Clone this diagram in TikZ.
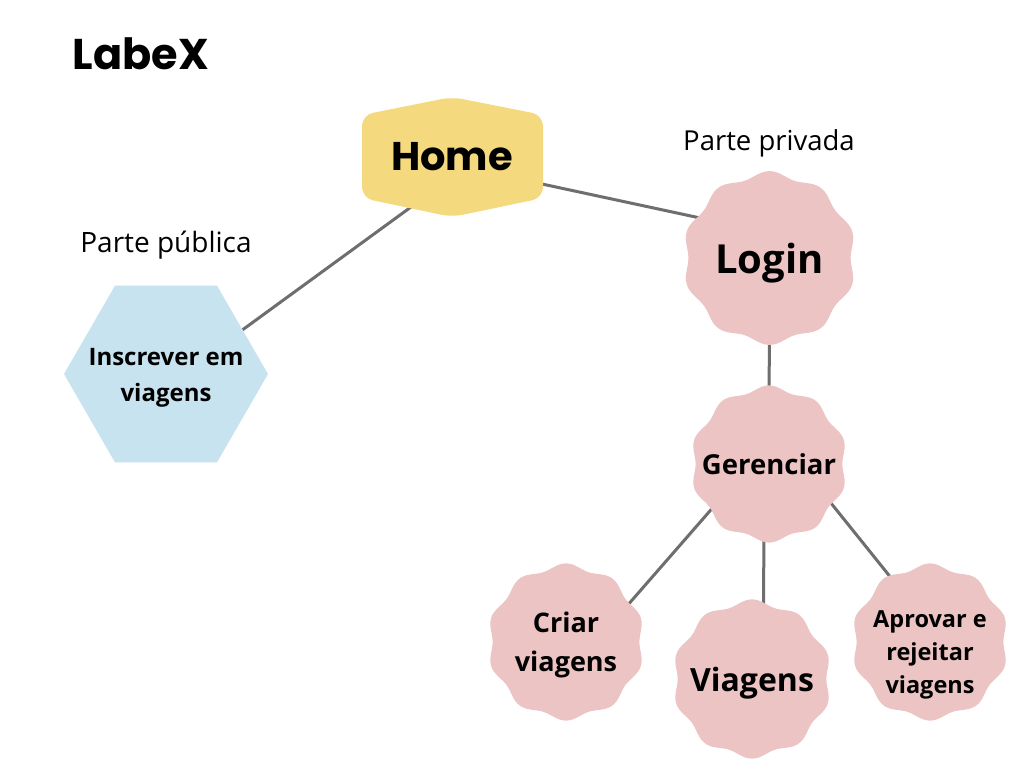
\documentclass[tikz,border=0pt]{standalone}
\usepackage{fontspec}
\setmainfont{Open Sans}
\newfontfamily\popfont{Poppins}
\usetikzlibrary{shapes.geometric,calc}
\pgfdeclarelayer{paper}
\pgfdeclarelayer{lines}
\pgfdeclarelayer{shapes}
\pgfsetlayers{paper,lines,shapes,main}
\definecolor{pinkc}{HTML}{ECC4C4}
\definecolor{yellowc}{HTML}{F5D97E}
\definecolor{bluec}{HTML}{C7E3EF}
\definecolor{linec}{HTML}{6E6E6E}
\newcommand\wavyfill[2]{%
  \fill[pinkc, shift={(#1)}] plot[smooth cycle, samples=72, domain=0:355] (\x:{#2*(1-0.035*cos(10*\x))});}
\tikzset{
  wavy/.style={circle, inner sep=0pt, minimum size=1.9*#1},
  lab/.style={inner sep=0pt, align=center},
  conn/.style={draw=linec, line width=3pt},
  plain/.style={inner sep=0pt, font=\fontsize{28}{32}\selectfont}
}
\begin{document}
\begin{tikzpicture}[x=1pt,y=-1pt]
\useasboundingbox (0,0) rectangle (1024,768);
\begin{pgfonlayer}{paper}
\fill[white] (0,0) rectangle (1024,768);
\end{pgfonlayer}
% title
\node[inner sep=0pt, font=\popfont\bfseries\fontsize{43}{50}\selectfont] (title) at (141,54) {LabeX};
% Home
\fill[yellowc, rounded corners=11pt] (362,115) -- (452,97) -- (543,115) -- (543,198) -- (452,217) -- (362,198) -- cycle;
\node[inner sep=0pt, font=\popfont\bfseries\fontsize{40}{46}\selectfont] (home) at (452,157) {Home};
% labels
\node[plain] (pub) at (166,245) {Parte pública};
\node[plain, font=\fontsize{27.5}{32}\selectfont] (priv) at (769,143) {Parte privada};
% blue hexagon
\node[regular polygon, regular polygon sides=6, minimum size=204, inner sep=0pt, fill=bluec,
  label={[lab, yshift=-4pt, font=\bfseries\fontsize{24}{36}\selectfont]center:{Inscrever em\\viagens}}] (blue) at (166,374) {};
% pink shapes
\node[wavy=84, label={[lab, yshift=-5pt, font=\bfseries\fontsize{40}{46}\selectfont]center:Login}] (login) at (769.5,258) {};
\node[wavy=76, label={[lab, font=\bfseries\fontsize{27.5}{34}\selectfont]center:Gerenciar}] (ger) at (769,464) {};
\node[wavy=76, label={[lab, yshift=-3pt, font=\bfseries\fontsize{27}{39}\selectfont]center:{Criar\\viagens}}] (cri) at (566,642) {};
\node[wavy=77, label={[lab, yshift=-4pt, font=\bfseries\fontsize{32}{36}\selectfont]center:Viagens}] (via) at (752,679) {};
\node[wavy=76, label={[lab, yshift=-13pt, font=\bfseries\fontsize{23.5}{33}\selectfont]center:{Aprovar e\\rejeitar\\viagens}}] (apr) at (930,642) {};
\begin{pgfonlayer}{shapes}
\wavyfill{login.center}{84}
\wavyfill{ger.center}{76}
\wavyfill{cri.center}{76}
\wavyfill{via.center}{77}
\wavyfill{apr.center}{76}
\end{pgfonlayer}
% connectors
\begin{pgfonlayer}{lines}
\draw[conn] ($(home.center)+(-30,42)$) -- (blue.30);
\draw[conn] ($(home.center)+(76,24)$) -- (login.150);
\draw[conn] (login.center) -- (ger.center);
\draw[conn] (ger.218) -- (cri.31);
\draw[conn] (ger.-94) -- (via.81);
\draw[conn] (ger.-32) -- (apr.121);
\end{pgfonlayer}
\end{tikzpicture}
\end{document}
